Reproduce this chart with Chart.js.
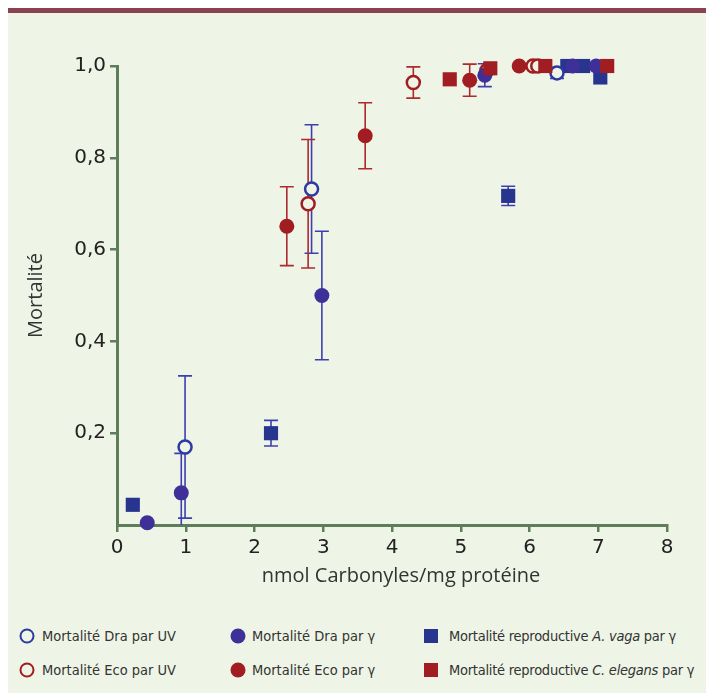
<!DOCTYPE html>
<html><head><meta charset="utf-8">
<script src="https://cdn.jsdelivr.net/npm/chart.js@4/dist/chart.umd.min.js"></script>
<style>
html,body{margin:0;padding:0;background:#fff;}
#wrap{position:relative;width:706px;height:693px;overflow:hidden;background:#fff;}
#panel{position:absolute;left:8px;top:8px;width:698px;height:685px;background:#eef5e6;}
#bar{position:absolute;left:8px;top:8px;width:698px;height:5px;background:#8c4150;}
#cv{position:absolute;left:8px;top:13px;}
.li{position:absolute;height:20px;line-height:20px;font-family:"DejaVu Sans",sans-serif;font-stretch:condensed;font-size:14.5px;color:#333;white-space:nowrap;transform:translateY(-50%);}
.li.c3{letter-spacing:-0.25px;}
.mk{position:absolute;box-sizing:border-box;transform:translate(-50%,-50%);}
</style></head>
<body>
<div id="wrap">
<div id="panel"></div>
<div id="bar"></div>
<canvas id="cv" width="698" height="600"></canvas>
<div id="legend"></div>
</div>
<script>
// ---- data (x = nmol carbonyles / mg protéine, y = mortalité, err = ± error) ----
const draUV_x   = [0.99, 2.83, 6.40];
const draUV_y   = [0.17, 0.732, 0.985];
const draUV_err = [0.155, 0.14, 0.012];

const draG_x    = [0.44, 0.935, 2.98, 5.35, 6.63, 6.97];
const draG_y    = [0.005, 0.07, 0.50, 0.98, 1.0, 1.0];
const draG_err  = [0, 0.086, 0.14, 0.025, 0, 0];

const ecoUV_x   = [2.78, 4.31, 5.38, 6.05, 6.12];
const ecoUV_y   = [0.70, 0.964, 0.99, 1.0, 1.0];
const ecoUV_err = [0.14, 0.034, 0, 0, 0];

const ecoG_x    = [2.47, 3.61, 5.13, 5.85];
const ecoG_y    = [0.651, 0.848, 0.969, 1.0];
const ecoG_err  = [0.086, 0.072, 0.035, 0];

const vaga_x    = [0.23, 2.24, 5.69, 6.55, 6.78, 7.03];
const vaga_y    = [0.044, 0.20, 0.717, 1.0, 1.0, 0.975];
const vaga_err  = [0, 0.028, 0.021, 0, 0, 0];

const eleg_x    = [4.84, 5.43, 6.23, 7.13];
const eleg_y    = [0.971, 0.995, 1.0, 1.0];
const eleg_err  = [0, 0, 0, 0];

const xTickValues = [0, 1, 2, 3, 4, 5, 6, 7, 8];
const yTickLabels = ['', '0,2', '0,4', '0,6', '0,8', '1,0'];
const xTitle = 'nmol Carbonyles/mg protéine';
const yTitle = 'Mortalité';

const seriesLabels = [
  'Mortalité Dra par UV', 'Mortalité Dra par γ', 'Mortalité reproductive A. vaga par γ',
  'Mortalité Eco par UV', 'Mortalité Eco par γ', 'Mortalité reproductive C. elegans par γ'
];

// ---- styling ----
const BG = '#eef5e6';
const AXIS = '#5e7d5b';
const BLUE_OPEN = '#2e3aa0';
const BLUE_FILL = '#3f2f98';
const BLUE_SQ = '#27358f';
const RED = '#a11d22';
const ERR_BLUE = '#3d3fb0';
const ERR_RED = '#ad2a2e';

function pts(xs, ys) { return xs.map((x, i) => ({x: x, y: ys[i]})); }

const common = {clip: false};
const datasets = [
  {label: seriesLabels[0], data: pts(draUV_x, draUV_y), err: draUV_err, errColor: ERR_BLUE,
   pointStyle: 'circle', pointRadius: 6.5, pointBorderWidth: 2.5, pointBackgroundColor: BG, pointBorderColor: BLUE_OPEN, order: 4},
  {label: seriesLabels[1], data: pts(draG_x, draG_y), err: draG_err, errColor: ERR_BLUE,
   pointStyle: 'circle', pointRadius: 7.5, pointBorderWidth: 0, pointBackgroundColor: BLUE_FILL, pointBorderColor: BLUE_FILL, order: 1},
  {label: seriesLabels[2], data: pts(vaga_x, vaga_y), err: vaga_err, errColor: ERR_BLUE,
   pointStyle: 'rect', pointRadius: 10, pointBorderWidth: 0, pointBackgroundColor: BLUE_SQ, pointBorderColor: BLUE_SQ, order: 5},
  {label: seriesLabels[3], data: pts(ecoUV_x, ecoUV_y), err: ecoUV_err, errColor: ERR_RED,
   pointStyle: 'circle', pointRadius: 6.5, pointBorderWidth: 2.5, pointBackgroundColor: BG, pointBorderColor: RED, order: 3},
  {label: seriesLabels[4], data: pts(ecoG_x, ecoG_y), err: ecoG_err, errColor: ERR_RED,
   pointStyle: 'circle', pointRadius: 7.5, pointBorderWidth: 0, pointBackgroundColor: RED, pointBorderColor: RED, order: 2},
  {label: seriesLabels[5], data: pts(eleg_x, eleg_y), err: eleg_err, errColor: ERR_RED,
   pointStyle: 'rect', pointRadius: 10, pointBorderWidth: 0, pointBackgroundColor: RED, pointBorderColor: RED, order: 0}
].map(d => Object.assign({}, common, d));

const errorBars = {
  id: 'errorBars',
  beforeDatasetsDraw(chart) {
    const {ctx, chartArea, scales: {x, y}} = chart;
    ctx.save();
    ctx.beginPath();
    ctx.rect(chartArea.left, chartArea.top - 10, chartArea.right - chartArea.left, chartArea.bottom - chartArea.top + 10);
    ctx.clip();
    ctx.lineWidth = 1.6;
    chart.data.datasets.forEach(ds => {
      ds.data.forEach((p, i) => {
        const e = ds.err[i];
        if (!e) return;
        const px = x.getPixelForValue(p.x);
        const top = y.getPixelForValue(p.y + e);
        const bot = y.getPixelForValue(p.y - e);
        ctx.strokeStyle = ds.errColor;
        ctx.beginPath();
        ctx.moveTo(px, top); ctx.lineTo(px, bot);
        ctx.moveTo(px - 7, top); ctx.lineTo(px + 7, top);
        ctx.moveTo(px - 7, bot); ctx.lineTo(px + 7, bot);
        ctx.stroke();
      });
    });
    ctx.restore();
  }
};

// x-axis title, slightly right of centre as in the original layout
const xTitlePlugin = {
  id: 'xTitlePlugin',
  afterDraw(chart) {
    const {ctx, chartArea} = chart;
    ctx.save();
    ctx.font = '20px "Open Sans", sans-serif';
    ctx.fillStyle = '#333';
    ctx.textAlign = 'center';
    ctx.textBaseline = 'middle';
    ctx.fillText(xTitle, (chartArea.left + chartArea.right) / 2 + 9, chartArea.bottom + 51);
    ctx.restore();
  }
};

const tickFont = {family: '"DejaVu Sans",sans-serif', style: 'condensed', size: 20};
const titleFont = {family: '"Open Sans",sans-serif', size: 20};

new Chart(document.getElementById('cv'), {
  type: 'scatter',
  data: {datasets: datasets},
  options: {
    responsive: false,
    devicePixelRatio: 1,
    animation: false,
    layout: {padding: {top: 53, right: 39, left: 0, bottom: 0}},
    plugins: {legend: {display: false}, tooltip: {enabled: false}},
    scales: {
      x: {
        type: 'linear', min: 0, max: 8,
        afterBuildTicks: s => { s.ticks = xTickValues.map(v => ({value: v})); },
        afterFit: s => { s.height = 88; },
        border: {color: AXIS, width: 3},
        grid: {display: true, drawOnChartArea: false, drawTicks: true, tickLength: 7, color: AXIS, lineWidth: 2.5},
        ticks: {color: '#222', font: tickFont, padding: 4, maxRotation: 0, callback: v => String(v)},
        title: {display: false}
      },
      y: {
        type: 'linear', min: 0, max: 1,
        afterBuildTicks: s => { s.ticks = yTickLabels.map((t, i) => ({value: i * 0.2})); },
        afterFit: s => { s.width = 109; },
        border: {color: AXIS, width: 3},
        grid: {display: true, drawOnChartArea: false, drawTicks: true, tickLength: 7, lineWidth: 2.5,
               color: c => (c.tick && c.tick.value === 0) ? 'rgba(0,0,0,0)' : AXIS},
        ticks: {color: '#222', font: tickFont, padding: 4, callback: (v, i) => yTickLabels[i]},
        title: {display: true, text: yTitle, color: '#333', font: titleFont, padding: {top: 16, bottom: 0}}
      }
    }
  },
  plugins: [errorBars, xTitlePlugin]
});

// ---- HTML legend ----
const legendItems = [
  {x: 27, y: 636, tx: 42, kind: 'open', color: BLUE_OPEN, html: 'Mortalité Dra par UV'},
  {x: 238, y: 636, tx: 252, kind: 'fill', color: BLUE_FILL, html: 'Mortalité Dra par γ'},
  {x: 431, y: 636, tx: 449, kind: 'sq', color: BLUE_SQ, html: 'Mortalité reproductive <i>A. vaga</i> par γ', c3: true},
  {x: 27, y: 670, tx: 42, kind: 'open', color: RED, html: 'Mortalité Eco par UV'},
  {x: 238, y: 670, tx: 252, kind: 'fill', color: RED, html: 'Mortalité Eco par γ'},
  {x: 431, y: 670, tx: 449, kind: 'sq', color: RED, html: 'Mortalité reproductive <i>C. elegans</i> par γ', c3: true}
];
const leg = document.getElementById('legend');
legendItems.forEach(it => {
  const m = document.createElement('div');
  m.className = 'mk';
  m.style.left = it.x + 'px'; m.style.top = it.y + 'px';
  if (it.kind === 'open') { m.style.width = '15px'; m.style.height = '15px'; m.style.borderRadius = '50%'; m.style.border = '2.5px solid ' + it.color; }
  else if (it.kind === 'fill') { m.style.width = '15px'; m.style.height = '15px'; m.style.borderRadius = '50%'; m.style.background = it.color; }
  else { m.style.width = '14px'; m.style.height = '14px'; m.style.background = it.color; }
  leg.appendChild(m);
  const t = document.createElement('div');
  t.className = 'li' + (it.c3 ? ' c3' : '');
  t.style.left = it.tx + 'px'; t.style.top = it.y + 'px';
  t.innerHTML = it.html;
  leg.appendChild(t);
});
</script>
</body></html>
